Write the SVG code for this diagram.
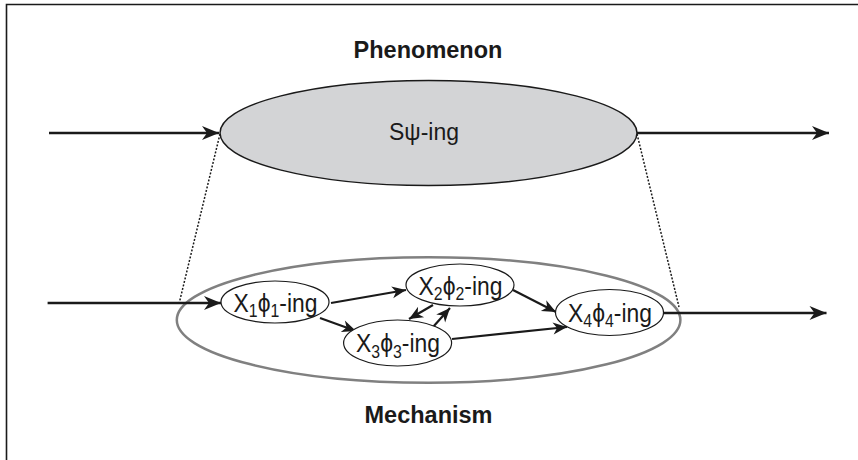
<svg xmlns="http://www.w3.org/2000/svg" width="858" height="460" viewBox="0 0 858 460">
<style>
.frame{stroke:#1a1a1a;stroke-width:1.6;fill:none}
.title{font-family:"Liberation Sans",Arial,sans-serif;font-weight:bold;font-size:23.5px;fill:#1a1a1a;text-anchor:middle}
.lbl{font-family:"Liberation Sans",Arial,sans-serif;font-size:23px;fill:#1a1a1a;text-anchor:middle}
.nl{font-family:"Liberation Sans",Arial,sans-serif;font-size:26px;fill:#1a1a1a;text-anchor:middle}
.sub{font-size:18px}
.node{fill:#ffffff;stroke:#1a1a1a;stroke-width:1.2}
.big{stroke:#1a1a1a;stroke-width:2.6;fill:none}
.small{stroke:#1a1a1a;stroke-width:2.2;fill:none}
.dot{stroke:#1a1a1a;stroke-width:1.5;stroke-dasharray:2 1.6;fill:none}
</style>
<defs>
<marker id="ah" viewBox="-18 -8 20 16" refX="0" refY="0" markerWidth="20" markerHeight="16" markerUnits="userSpaceOnUse" orient="auto">
<path d="M0,0 L-17,-7 L-12,0 L-17,7 Z" fill="#1a1a1a"/>
</marker>
<marker id="ahs" viewBox="-16 -7 18 14" refX="0" refY="0" markerWidth="18" markerHeight="14" markerUnits="userSpaceOnUse" orient="auto">
<path d="M0,0 L-14,-6 L-10,0 L-14,6 Z" fill="#1a1a1a"/>
</marker>
</defs>
<rect width="858" height="460" fill="#ffffff"/>
<path class="frame" d="M6.5,460 V4.5 H858"/>
<text class="title" x="428" y="57.5">Phenomenon</text>
<text class="title" x="428.5" y="423">Mechanism</text>

<g id="phenomenon">
<ellipse cx="428.5" cy="133" rx="208.5" ry="52.5" fill="#d3d4d6" stroke="#1a1a1a" stroke-width="1.5"/>
<text class="lbl" x="424" y="139.5">Sψ-ing</text>
</g>

<g id="mechanism">
<ellipse cx="428.6" cy="320" rx="251.8" ry="62.7" fill="none" stroke="#808080" stroke-width="2.5"/>
</g>

<g id="connectors">
<path class="dot" d="M220,134 L179,304"/>
<path class="dot" d="M637,134 L679,307"/>
<path class="big" d="M49,133 H219" marker-end="url(#ah)"/>
<path class="big" d="M637,133 H829" marker-end="url(#ah)"/>
<path class="big" d="M47.6,303 H221" marker-end="url(#ah)"/>
<path class="big" d="M663,313 H826.5" marker-end="url(#ah)"/>
<path class="small" d="M331,303 L406,290" marker-end="url(#ahs)"/>
<path class="small" d="M320,318 L356,331" marker-end="url(#ahs)"/>
<path class="small" d="M433,305 L409,319" marker-end="url(#ahs)"/>
<path class="small" d="M433,327 L450,308" marker-end="url(#ahs)"/>
<path class="small" d="M513,290 L556,312" marker-end="url(#ahs)"/>
<path class="small" d="M452,339 L567,327" marker-end="url(#ahs)"/>
</g>

<g id="x1">
<ellipse class="node" cx="275" cy="302" rx="54" ry="21"/>
<text class="nl" transform="translate(275.5,311.5) scale(0.88,1)">X<tspan class="sub" dy="5.5">1</tspan><tspan dy="-5.5">ϕ</tspan><tspan class="sub" dy="5.5">1</tspan><tspan dy="-5.5">-ing</tspan></text>
</g>
<g id="x2">
<ellipse class="node" cx="460" cy="285" rx="54" ry="21"/>
<text class="nl" transform="translate(460.5,294.5) scale(0.88,1)">X<tspan class="sub" dy="5.5">2</tspan><tspan dy="-5.5">ϕ</tspan><tspan class="sub" dy="5.5">2</tspan><tspan dy="-5.5">-ing</tspan></text>
</g>
<g id="x3">
<ellipse class="node" cx="397.6" cy="343" rx="54" ry="23"/>
<text class="nl" transform="translate(398,352) scale(0.88,1)">X<tspan class="sub" dy="5.5">3</tspan><tspan dy="-5.5">ϕ</tspan><tspan class="sub" dy="5.5">3</tspan><tspan dy="-5.5">-ing</tspan></text>
</g>
<g id="x4">
<ellipse class="node" cx="609.5" cy="312.5" rx="54" ry="23"/>
<text class="nl" transform="translate(610,321.5) scale(0.88,1)">X<tspan class="sub" dy="5.5">4</tspan><tspan dy="-5.5">ϕ</tspan><tspan class="sub" dy="5.5">4</tspan><tspan dy="-5.5">-ing</tspan></text>
</g>
</svg>
